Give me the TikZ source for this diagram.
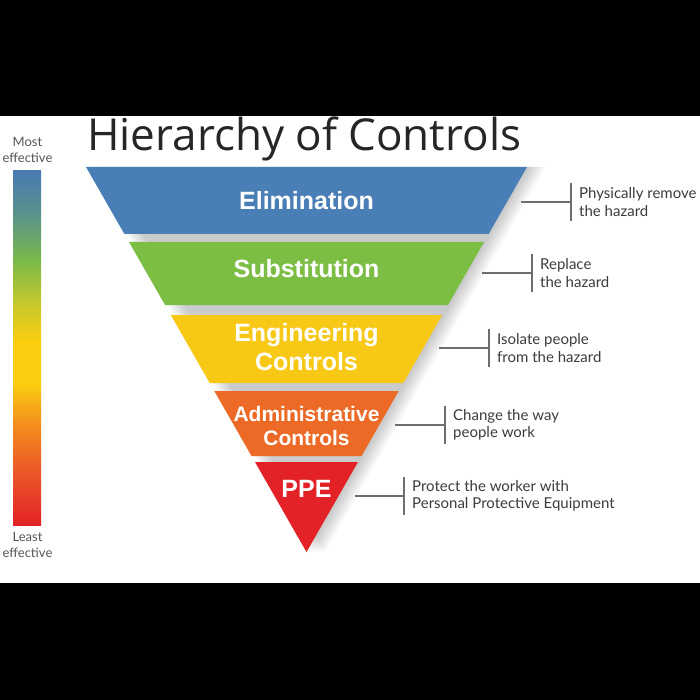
\documentclass[tikz,border=0pt]{standalone}
\usepackage{fontspec}
\setmainfont{Lato}
\newfontfamily\bandfont{Liberation Sans}
\newfontfamily\titlefont{Open Sans}
\usepackage{tikz}
\usepackage{xcolor}

\definecolor{elimblue}{RGB}{74,126,182}
\definecolor{substgreen}{RGB}{124,189,68}
\definecolor{engyellow}{RGB}{247,200,22}
\definecolor{adminorange}{RGB}{236,106,38}
\definecolor{ppered}{RGB}{226,34,39}
\definecolor{desctext}{RGB}{60,60,60}
\definecolor{linegray}{RGB}{110,110,110}
\definecolor{sidegray}{RGB}{85,85,85}

% the middle 50bp (25bp..75bp) is what fills the bar
\pgfdeclareverticalshading{effect}{100bp}{color(0bp)=(ppered); color(25bp)=(ppered);
  color(33bp)=(rgb,255:red,236;green,90;blue,40); color(39bp)=(rgb,255:red,242;green,140;blue,30);
  color(45bp)=(rgb,255:red,250;green,205;blue,15); color(51bp)=(rgb,255:red,250;green,205;blue,15);
  color(56.5bp)=(rgb,255:red,195;green,200;blue,45); color(62.5bp)=(rgb,255:red,120;green,185;blue,75);
  color(69bp)=(rgb,255:red,90;green,145;blue,140); color(75bp)=(rgb,255:red,73;green,122;blue,178);
  color(100bp)=(rgb,255:red,73;green,122;blue,178)}

\begin{document}
\begin{tikzpicture}[x=1pt,y=-1pt,
  band/.style={text=white, align=center, font=\bandfont\bfseries\fontsize{25}{29}\selectfont},
  desc/.style={anchor=west, align=left, text=desctext, inner xsep=8pt, inner ysep=0pt,
    minimum height=37pt, font=\fontsize{15}{17.5}\selectfont},
  side/.style={align=center, text=sidegray, font=\fontsize{13}{16}\selectfont},
  link/.style={draw=linegray, line width=1.1pt}]
\useasboundingbox (0,0) rectangle (700,700);
% page
\fill[black] (0,0) rectangle (700,700);
\fill[white] (0,116) rectangle (700,583);
% title
\node[anchor=base west, inner sep=0pt, text=black!85, font=\titlefont\fontsize{44}{50}\selectfont] (title) at (87,151) {Hierarchy of Controls};
% effectiveness scale
\shade[shading=effect] (13,171) rectangle (41,525);
\node[side] (most) at (27.5,150) {Most\\effective};
\node[side] (least) at (27.5,545) {Least\\effective};
% soft shadow of the triangle
\foreach \s in {3,6,...,18}
  \fill[black, opacity=0.035, xshift=\s] (86,167) -- (527,167) -- (306.5,552) -- cycle;
% bands
\fill[elimblue] (86,167) -- (527,167) -- (488.6,234) -- (124.4,234) -- cycle;
\fill[substgreen] (129,242) -- (484,242) -- (448,305) -- (165,305) -- cycle;
\fill[engyellow] (170.8,315) -- (442.2,315) -- (403.3,383) -- (209.7,383) -- cycle;
\fill[adminorange] (214.3,391) -- (398.7,391) -- (361.5,456) -- (251.5,456) -- cycle;
\fill[ppered] (255,462) -- (358,462) -- (306.5,552) -- cycle;
\node[band] (elim) at (306.5,201) {Elimination};
\node[band] (subst) at (306.5,269) {Substitution};
\node[band] (eng) at (306.5,347) {Engineering\\Controls};
\node[band, font=\bandfont\bfseries\fontsize{21}{24.5}\selectfont] (admin) at (306.5,426) {Administrative\\Controls};
\node[band] (ppe) at (306.5,489) {PPE};
% descriptions
\node[desc] (elimtxt) at (571,202) {Physically remove\\the hazard};
\node[desc] (substtxt) at (532,273) {Replace\\the hazard};
\node[desc] (engtxt) at (489,348) {Isolate people\\from the hazard};
\node[desc] (admintxt) at (445,425) {Change the way\\people work};
\node[desc] (ppetxt) at (404,496) {Protect the worker with\\Personal Protective Equipment};
\coordinate (elimend) at (521,202);
\coordinate (substend) at (482,273);
\coordinate (engend) at (439,348);
\coordinate (adminend) at (395,425);
\coordinate (ppeend) at (355,496);
\foreach \n in {elim,subst,eng,admin,ppe} {
  \draw[link] (\n end) -- (\n txt.west);
  \draw[link] (\n txt.north west) -- (\n txt.south west);
}
\end{tikzpicture}
\end{document}
